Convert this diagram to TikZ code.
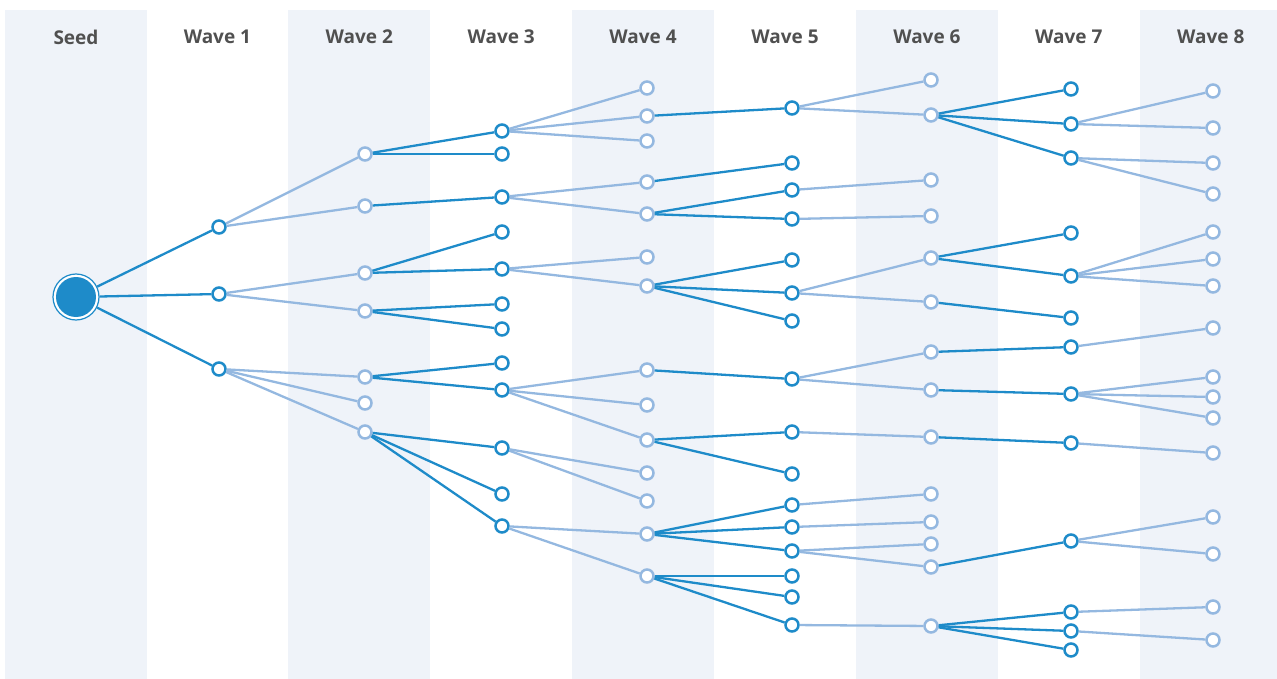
\documentclass[tikz,border=0pt]{standalone}
\usepackage{fontspec}
\setmainfont{Open Sans}
\definecolor{dk}{HTML}{1E8BC9}
\definecolor{lt}{HTML}{94B8E0}
\definecolor{band}{HTML}{EFF3F9}
\definecolor{hdrtxt}{HTML}{505050}
\tikzset{
  hdr/.style={font=\fontsize{19}{22}\selectfont\bfseries, text=hdrtxt, inner sep=0pt},
  dnode/.style={circle, draw=dk, line width=2.5pt, fill=white, minimum size=13pt, inner sep=0pt},
  lnode/.style={circle, draw=lt, line width=2.5pt, fill=white, minimum size=13pt, inner sep=0pt},
  dedge/.style={draw=dk, line width=2.3pt},
  ledge/.style={draw=lt, line width=2.3pt},
  seednode/.style={circle, draw=dk, line width=1.2pt, fill=white, minimum size=46pt, inner sep=0pt,
    path picture={\fill[dk] (path picture bounding box.center) circle (20pt);}}
}
\begin{document}
\begin{tikzpicture}[x=1pt,y=-1pt]
\useasboundingbox (0,0) rectangle (1277,679);
% bands
\foreach \bx in {5,288,572,856,1140}{
  \fill[band] (\bx,10) rectangle ({min(\bx+142,1277)},679);
}
% headers
\node[hdr] (t0) at (76,37) {Seed};
\foreach \i in {1,...,8}{
  \node[hdr] (t\i) at ({75.5+141.9*\i},37) {Wave \i};
}
% seed
\node[seednode] (s) at (76,297) {};
% wave 1
\foreach \n/\y in {a1/227,a2/294,a3/369}{ \node[dnode] (\n) at (219,\y) {}; }
% wave 2
\foreach \n/\y in {b1/154,b2/206,b3/273,b4/311,b5/377,b6/403,b7/432}{ \node[lnode] (\n) at (365,\y) {}; }
% wave 3
\foreach \n/\y in {c1/131,c2/154,c3/197,c4/232,c5/269,c6/304,c7/329,c8/363,c9/390,c10/448,c11/494,c12/526}{ \node[dnode] (\n) at (502,\y) {}; }
% wave 4
\foreach \n/\y in {d1/88,d2/116,d3/141,d4/182,d5/214,d6/257,d7/286,d8/370,d9/405,d10/440,d11/473,d12/501,d13/534,d14/576}{ \node[lnode] (\n) at (647,\y) {}; }
% wave 5
\foreach \n/\y in {e1/108,e2/163,e3/190,e4/219,e5/260,e6/293,e7/321,e8/379,e9/432,e10/474,e11/505,e12/527,e13/551,e14/576,e15/597,e16/625}{ \node[dnode] (\n) at (792,\y) {}; }
% wave 6
\foreach \n/\y in {f1/80,f2/115,f3/180,f4/216,f5/258,f6/302,f7/352,f8/390,f9/437,f10/494,f11/522,f12/544,f13/567,f14/626}{ \node[lnode] (\n) at (931,\y) {}; }
% wave 7
\foreach \n/\y in {g1/89,g2/124,g3/158,g4/233,g5/276,g6/318,g7/347,g8/394,g9/443,g10/541,g11/612,g12/631,g13/650}{ \node[dnode] (\n) at (1071,\y) {}; }
% wave 8
\foreach \n/\y in {h1/91,h2/128,h3/163,h4/194,h5/232,h6/259,h7/286,h8/328,h9/377,h10/397,h11/418,h12/453,h13/517,h14/554,h15/607,h16/640}{ \node[lnode] (\n) at (1213,\y) {}; }
% dark connectors
\foreach \p/\c in {s/a1,s/a2,s/a3,
  b1/c1,b1/c2,b2/c3,b3/c4,b3/c5,b4/c6,b4/c7,b5/c8,b5/c9,b7/c10,b7/c11,b7/c12,
  d2/e1,d4/e2,d5/e3,d5/e4,d7/e5,d7/e6,d7/e7,d8/e8,d10/e9,d10/e10,d13/e11,d13/e12,d13/e13,d14/e14,d14/e15,d14/e16,
  f2/g1,f2/g2,f2/g3,f5/g4,f5/g5,f6/g6,f7/g7,f8/g8,f9/g9,f13/g10,f14/g11,f14/g12,f14/g13}{
  \draw[dedge] (\p) -- (\c);
}
% light connectors
\foreach \p/\c in {a1/b1,a1/b2,a2/b3,a2/b4,a3/b5,a3/b6,a3/b7,
  c1/d1,c1/d2,c1/d3,c3/d4,c3/d5,c5/d6,c5/d7,c9/d8,c9/d9,c9/d10,c10/d11,c10/d12,c12/d13,c12/d14,
  e1/f1,e1/f2,e3/f3,e4/f4,e6/f5,e6/f6,e8/f7,e8/f8,e9/f9,e11/f10,e12/f11,e13/f12,e13/f13,e16/f14,
  g2/h1,g2/h2,g3/h3,g3/h4,g5/h5,g5/h6,g5/h7,g7/h8,g8/h9,g8/h10,g8/h11,g9/h12,g10/h13,g10/h14,g11/h15,g12/h16}{
  \draw[ledge] (\p) -- (\c);
}
\end{tikzpicture}
\end{document}
